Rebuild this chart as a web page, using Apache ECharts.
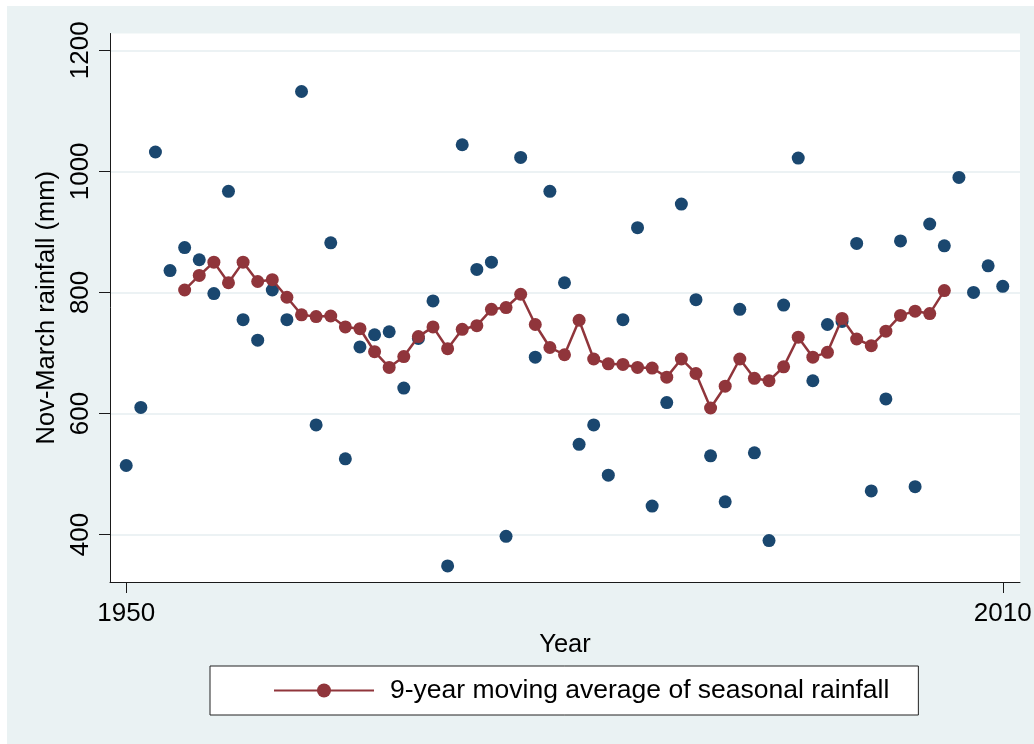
<!DOCTYPE html>
<html>
<head>
<meta charset="utf-8">
<script src="https://cdn.jsdelivr.net/npm/echarts@6/dist/echarts.min.js"></script>
<style>
  html, body { margin: 0; padding: 0; background: #ffffff; }
  #bg { position: absolute; left: 7px; top: 6px; right: 0; bottom: 0; background: #eaf2f3; }
  #chart { position: absolute; left: 0; top: 0; width: 1034px; height: 744px; }
</style>
</head>
<body>
<div id="bg"></div>
<div id="chart"></div>
<script>
// ---- Data ----
const years = [1950,1951,1952,1953,1954,1955,1956,1957,1958,1959,
               1960,1961,1962,1963,1964,1965,1966,1967,1968,1969,
               1970,1971,1972,1973,1974,1975,1976,1977,1978,1979,
               1980,1981,1982,1983,1984,1985,1986,1987,1988,1989,
               1990,1991,1992,1993,1994,1995,1996,1997,1998,1999,
               2000,2001,2002,2003,2004,2005,2006,2007,2008,2009,2010];
const rainfall = [514,610,1032,836,874,854,798,967,755,721,
                  804,755,1132,581,882,525,710,730,735,642,
                  724,786,348,1044,838,850,397,1023,693,967,
                  816,549,581,498,755,907,447,618,946,788,
                  530,454,772,535,390,779,1022,654,747,752,
                  881,472,624,885,479,913,877,990,800,844,810];
const maYears = [1954,1955,1956,1957,1958,1959,
                 1960,1961,1962,1963,1964,1965,1966,1967,1968,1969,
                 1970,1971,1972,1973,1974,1975,1976,1977,1978,1979,
                 1980,1981,1982,1983,1984,1985,1986,1987,1988,1989,
                 1990,1991,1992,1993,1994,1995,1996,1997,1998,1999,
                 2000,2001,2002,2003,2004,2005,2006];
const movingAvg = [804,828,850,816,850,818,
                   821,792,763,760,761,743,740,702,676,694,
                   727,743,707,739,745,772,775,797,747,709,
                   697,754,690,682,681,676,675,660,690,666,
                   609,645,690,658,654,677,726,693,701,757,
                   723,712,736,762,769,765,803];
const xTickLabels = [1950, 2010];
const yTickLabels = [400, 600, 800, 1000, 1200];
const legendName = '9-year moving average of seasonal rainfall';

const scatterData = years.map((y, i) => [y, rainfall[i]]);
const lineData = maYears.map((y, i) => [y, movingAvg[i]]);

const FONT = 'Liberation Sans, Arial, sans-serif';
const plain = v => String(v);
const chart = echarts.init(document.getElementById('chart'), null, { renderer: 'canvas' });
chart.setOption({
  backgroundColor: 'transparent',
  animation: false,
  textStyle: { fontFamily: FONT, color: '#000' },
  grid: {
    left: 110, right: 14, top: 33.5, bottom: 162,
    show: true, backgroundColor: '#ffffff', borderWidth: 0,
    containLabel: false, outerBoundsMode: 'none'
  },
  legend: {
    show: true,
    data: [legendName],
    left: 210, top: 666,
    orient: 'horizontal',
    itemWidth: 100, itemHeight: 17.5,
    padding: [11, 29, 11, 63],
    backgroundColor: '#ffffff',
    borderColor: '#222', borderWidth: 1, borderRadius: 0,
    textStyle: { fontFamily: FONT, fontSize: 26.5, color: '#000', padding: [0, 0, 0, 11] },
    selectedMode: false
  },
  xAxis: {
    type: 'value',
    min: 1948.89, max: 2011.18,
    name: 'Year', nameLocation: 'middle', nameGap: 44,
    nameTextStyle: { fontFamily: FONT, fontSize: 25.5, color: '#000' },
    axisLine: { show: true, onZero: false, lineStyle: { color: '#1a1a1a', width: 1 } },
    axisTick: { show: true, length: 11, customValues: xTickLabels, lineStyle: { color: '#1a1a1a', width: 1 } },
    axisLabel: { show: true, customValues: xTickLabels, formatter: plain, margin: 19, fontSize: 26, color: '#000', fontFamily: FONT },
    splitLine: { show: false }
  },
  yAxis: {
    type: 'value',
    min: 321.5, max: 1227.8,
    name: 'Nov-March rainfall (mm)', nameLocation: 'middle', nameRotate: 90, nameGap: 49,
    nameTextStyle: { fontFamily: FONT, fontSize: 25.5, color: '#000' },
    axisLine: { show: true, onZero: false, lineStyle: { color: '#1a1a1a', width: 1 } },
    axisTick: { show: true, length: 11, customValues: yTickLabels, lineStyle: { color: '#1a1a1a', width: 1 } },
    axisLabel: { show: true, customValues: yTickLabels, formatter: plain, rotate: 90, margin: 16, fontSize: 26, color: '#000', fontFamily: FONT },
    splitLine: { show: true, lineStyle: { color: '#e6eef0', width: 1.7 } }
  },
  series: [
    {
      name: 'Seasonal rainfall',
      type: 'scatter',
      data: scatterData,
      symbol: 'circle',
      symbolSize: 13,
      itemStyle: { color: '#1a476f', borderWidth: 0, opacity: 1 },
      emphasis: { disabled: true }
    },
    {
      name: legendName,
      type: 'line',
      data: lineData,
      symbol: 'circle',
      symbolSize: 13,
      showAllSymbol: true,
      itemStyle: { color: '#90353b', borderWidth: 0, opacity: 1 },
      lineStyle: { color: '#90353b', width: 2.5 },
      emphasis: { disabled: true }
    }
  ]
});
</script>
</body>
</html>
